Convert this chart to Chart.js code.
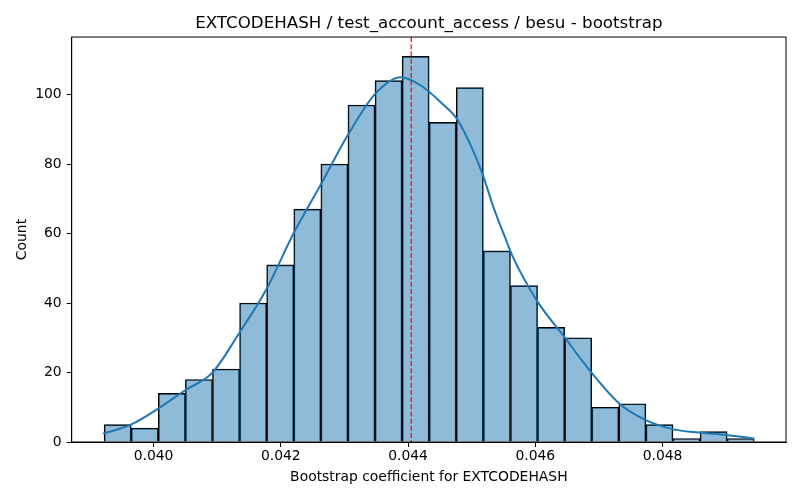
<!DOCTYPE html>
<html>
<head>
<meta charset="utf-8">
<script src="https://cdn.jsdelivr.net/npm/chart.js@4.4.1/dist/chart.umd.min.js"></script>
<style>
  html, body { margin: 0; padding: 0; background: #fff; }
  #box { width: 800px; height: 500px; }
</style>
</head>
<body>
<div id="box"><canvas id="grafico"></canvas></div>
<script>
// histogram bins (bootstrap samples per bin)
const binStart = 0.039224;
const binWidth = 0.0004257;
const counts = [5, 4, 14, 18, 21, 40, 51, 67, 80, 97, 104, 111,
                92, 102, 55, 45, 33, 30, 10, 11, 5, 1, 3, 1];

// kde curve (already scaled to counts)
const kdeX = [0.039208, 0.039643, 0.040072, 0.040497, 0.040921, 0.041345, 0.041770,
              0.042205, 0.042656, 0.043049, 0.043483, 0.043887, 0.044201, 0.044542,
              0.044767, 0.044987, 0.045171, 0.045353, 0.045537, 0.045642, 0.046035,
              0.046453, 0.046873, 0.047318, 0.047738, 0.048157, 0.048575, 0.049006, 0.049440];
const kdeY = [2.4, 5.0, 9.6, 14.9, 19.9, 31.3, 43.8,
              60.2, 75.0, 88.2, 100.2, 105.0, 102.6, 97.3,
              93.0, 85.3, 77.1, 67.0, 58.3, 53.5, 40.4,
              30.3, 20.2, 11.1, 6.3, 3.7, 2.7, 2.0, 1.0];

// observed coefficient (red dashed line)
const observed = 0.04405;

const xTicks = [0.040, 0.042, 0.044, 0.046, 0.048];
const yTicks = [0, 20, 40, 60, 80, 100];
const xMin = 0.038714, xMax = 0.04994;
const yMax = 116.55;

Chart.defaults.font.family = 'DejaVu Sans';
Chart.defaults.color = '#000';

const histData = counts.map((c, i) => ({ x: binStart + (i + 0.5) * binWidth, y: c }));
const kdeData = kdeX.map((x, i) => ({ x: x, y: kdeY[i] }));

// spines + linha vermelha do valor observado, por cima das barras
const moldura = {
  id: 'moldura',
  afterDatasetsDraw(chart) {
    const a = chart.chartArea, ctx = chart.ctx;
    const px = chart.scales.x.getPixelForValue(observed);
    ctx.save();
    ctx.strokeStyle = '#ff0000';
    ctx.lineWidth = 1.2;
    ctx.setLineDash([5, 2.2]);
    ctx.beginPath();
    ctx.moveTo(px, a.top);
    ctx.lineTo(px, a.bottom);
    ctx.stroke();
    ctx.setLineDash([]);
    ctx.strokeStyle = '#000';
    ctx.lineWidth = 1;
    ctx.strokeRect(a.left, a.top, a.right - a.left, a.bottom - a.top);
    ctx.restore();
  }
};

const config = {
  type: 'bar',
  data: {
    datasets: [
      {
        type: 'line',
        data: kdeData,
        borderColor: '#1f77b4',
        borderWidth: 2,
        pointRadius: 0,
        cubicInterpolationMode: 'monotone',
        order: 1
      },
      {
        type: 'bar',
        data: histData,
        backgroundColor: 'rgba(31, 119, 180, 0.5)',
        borderColor: '#000',
        borderWidth: 1,
        barPercentage: 1,
        categoryPercentage: 1,
        order: 2
      }
    ]
  },
  options: {
    responsive: true,
    maintainAspectRatio: false,
    animation: false,
    layout: { padding: { left: 0, right: 14, top: 0, bottom: 0 } },
    plugins: {
      legend: { display: false },
      tooltip: { enabled: false },
      title: {
        display: true,
        fullSize: false,
        text: 'EXTCODEHASH / test_account_access / besu - bootstrap',
        font: { size: 16.7, weight: 'normal' },
        color: '#000',
        padding: { top: 14, bottom: 3 }
      }
    },
    scales: {
      x: {
        type: 'linear',
        min: xMin,
        max: xMax,
        offset: false,
        afterBuildTicks: s => { s.ticks = xTicks.map(v => ({ value: v })); },
        afterFit: s => { s.height = 58; },
        ticks: {
          font: { size: 13.9 },
          padding: 1,
          maxRotation: 0,
          callback: v => v.toFixed(3)
        },
        grid: { offset: false, drawOnChartArea: false, drawTicks: true, tickLength: 5, color: '#000' },
        border: { color: '#000', width: 1 },
        title: {
          display: true,
          text: 'Bootstrap coefficient for EXTCODEHASH',
          font: { size: 13.9 },
          padding: { top: 2, bottom: 14 }
        }
      },
      y: {
        min: 0,
        max: yMax,
        afterBuildTicks: s => { s.ticks = yTicks.map(v => ({ value: v })); },
        afterFit: s => { s.width = 71.7; },
        ticks: { font: { size: 13.9 }, padding: 5 },
        grid: { drawOnChartArea: false, drawTicks: true, tickLength: 5, color: '#000' },
        border: { color: '#000', width: 1 },
        title: {
          display: true,
          text: 'Count',
          font: { size: 13.9 },
          padding: { top: 14, bottom: 6 }
        }
      }
    }
  },
  plugins: [moldura]
};

const ctx = document.getElementById('grafico').getContext('2d');
new Chart(ctx, config);
</script>
</body>
</html>
